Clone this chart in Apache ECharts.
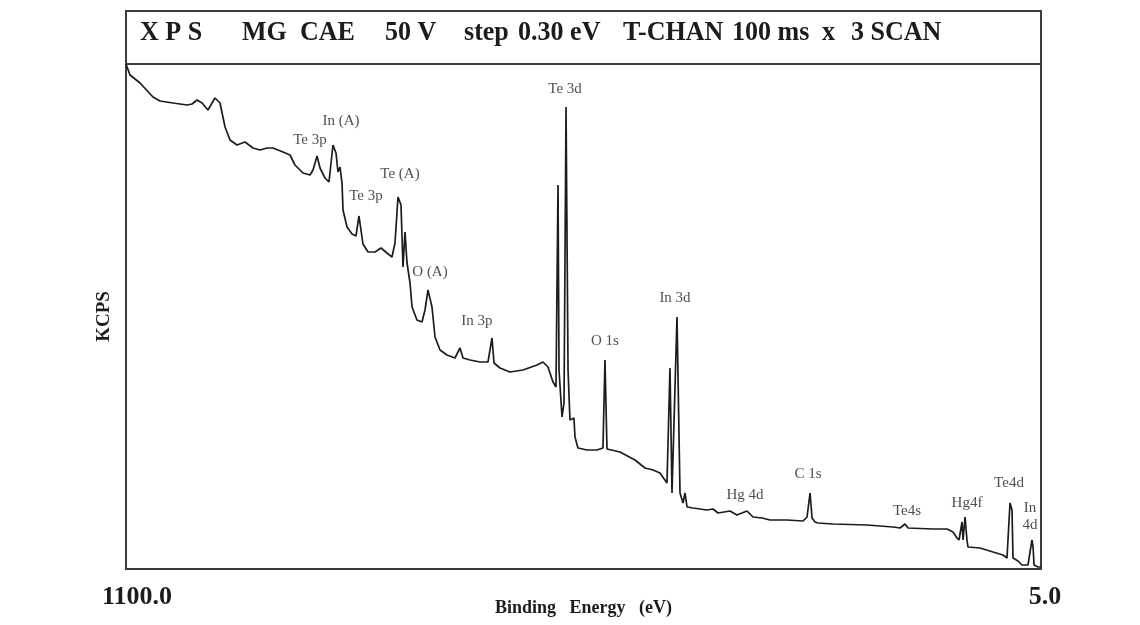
<!DOCTYPE html>
<html>
<head>
<meta charset="utf-8">
<title>XPS survey spectrum</title>
<script src="https://cdn.jsdelivr.net/npm/echarts@6/dist/echarts.min.js"></script>
<style>
  html, body { margin: 0; padding: 0; background: #ffffff; }
  #chart { width: 1140px; height: 625px; }
</style>
</head>
<body>
<div id="chart"></div>
<script>
// Survey scan: binding energy (eV) and count rate (KCPS, arbitrary scale)
const bindingEnergy = [
  1100, 1095.2, 1083.2, 1067.7, 1059.3, 1043.8, 1027.0, 1021.0, 1015.0, 1009.0,
  1001.9, 993.5, 987.5, 981.5, 975.5, 967.2, 957.6, 948.0, 939.6, 931.3,
  924.1, 912.1, 903.7, 897.8, 888.2, 879.8, 876.2, 871.4, 867.8, 861.9,
  857.1, 852.3, 848.7, 846.3, 843.9, 841.5, 840.3, 835.5, 829.5, 824.8,
  821.2, 816.4, 810.4, 802.0, 794.8, 787.7, 781.7, 778.1, 774.5, 770.9,
  768.5, 766.1, 763.7, 760.1, 757.7, 751.8, 745.8, 742.2, 738.6, 733.8,
  730.2, 724.2, 715.9, 706.3, 700.3, 696.7, 688.3, 676.4, 666.8, 662.0,
  659.6, 652.4, 640.5, 624.9, 608.1, 601.0, 595.0, 589.0, 585.4, 583.0,
  581.8, 578.2, 575.8, 573.4, 571.0, 568.7, 563.9, 562.7, 559.1, 548.3,
  536.4, 529.2, 526.8, 524.4, 508.8, 490.9, 478.9, 469.3, 460.9, 452.6,
  449.0, 446.6, 440.6, 437.0, 433.4, 431.0, 428.6, 421.5, 404.7, 397.5,
  391.5, 377.2, 368.8, 356.9, 349.7, 338.9, 329.3, 309.0, 289.8, 285.0,
  281.4, 279.0, 275.5, 271.9, 253.9, 213.2, 182.1, 173.7, 167.7, 164.1,
  134.4, 117.5, 110.3, 105.5, 103.1, 99.5, 98.3, 95.9, 93.6, 92.4,
  78.0, 62.4, 50.5, 45.7, 42.1, 39.7, 38.5, 32.5, 27.8, 20.6,
  15.8, 14.5, 13.3, 8.6, 5.0
];
const intensity = [
  50.5, 49.4, 48.6, 47.2, 46.8, 46.6, 46.4, 46.5, 46.9, 46.6,
  45.9, 47.1, 46.6, 44.2, 42.9, 42.4, 42.7, 42.1, 41.9, 42.1,
  42.1, 41.7, 41.4, 40.4, 39.6, 39.4, 39.9, 41.3, 40.1, 39.1,
  38.7, 42.4, 41.6, 39.7, 40.2, 38.6, 35.9, 34.2, 33.5, 33.3,
  35.3, 32.5, 31.7, 31.7, 32.1, 31.6, 31.2, 32.6, 37.2, 36.4,
  30.2, 33.7, 30.6, 28.6, 26.2, 24.9, 24.7, 25.9, 27.9, 26.2,
  23.2, 21.9, 21.4, 21.1, 22.1, 21.1, 20.9, 20.7, 20.7, 23.1,
  20.6, 20.1, 19.7, 19.9, 20.4, 20.7, 20.2, 18.7, 18.2, 38.4,
  19.9, 15.2, 16.6, 46.2, 19.9, 14.9, 15.1, 13.2, 12.1, 11.9,
  11.9, 12.1, 20.9, 12.0, 11.7, 10.9, 10.1, 9.9, 9.6, 8.6,
  20.1, 7.6, 25.2, 7.6, 6.6, 7.6, 6.2, 6.1, 5.9, 6.0,
  5.6, 5.8, 5.4, 5.8, 5.2, 5.1, 4.9, 4.9, 4.8, 5.2,
  7.6, 5.1, 4.7, 4.6, 4.5, 4.4, 4.2, 4.1, 4.5, 4.1,
  4.0, 4.0, 3.7, 3.1, 2.9, 4.7, 2.9, 5.2, 2.9, 2.2,
  2.1, 1.7, 1.4, 1.1, 6.6, 5.9, 1.1, 0.8, 0.4, 0.4,
  2.9, 2.2, 0.4, 0.2, 0.2
];

// Peak assignments and where their names sit (energy, count rate)
const peakNames = [
  'Te 3p', 'In (A)', 'Te 3p', 'Te (A)', 'O (A)', 'In 3p', 'Te 3d', 'O 1s',
  'In 3d', 'Hg 4d', 'C 1s', 'Te4s', 'Hg4f', 'Te4d', 'In\n4d'
];
const peakLabelEnergy = [
  879.8, 842.7, 812.8, 772.1, 736.2, 680.0, 574.6, 526.8,
  443.0, 359.3, 283.8, 165.4, 93.6, 43.3, 18.2
];
const peakLabelIntensity = [
  42.9, 44.8, 37.3, 39.5, 29.7, 24.8, 48.0, 22.8,
  27.1, 7.4, 9.5, 5.8, 6.6, 8.6, 5.2
];

// Acquisition settings printed in the header strip
const headerParts = ['X P S', 'MG', 'CAE', '50 V', 'step', '0.30 eV', 'T-CHAN', '100 ms', 'x', '3 SCAN'];
const energyEnds = [1100, 5];
const axisTitleX = 'Binding   Energy   (eV)';
const axisTitleY = 'KCPS';

const serif = '"Liberation Serif", "Times New Roman", Times, serif';
const ink = '#1c1c1c';
const frame = '#3c3c3c';

const spectrum = bindingEnergy.map((e, i) => [e, intensity[i]]);
const peakLabels = peakNames.map((n, i) => [peakLabelEnergy[i], peakLabelIntensity[i], n]);

// Header words: left edge of each word, set in a slightly narrowed bold face
const headerLeft = [140, 242, 300, 385, 464, 518, 623, 732, 822, 851];
const headerText = headerParts.map((t, i) => ({
  type: 'text',
  x: headerLeft[i],
  y: 33,
  scaleX: 0.93,
  silent: true,
  style: {
    text: t,
    x: 0,
    y: 0,
    fill: ink,
    font: 'bold 28px ' + serif,
    align: 'left',
    verticalAlign: 'middle',
    textAlign: 'left',
    textVerticalAlign: 'middle'
  }
}));

const chart = echarts.init(document.getElementById('chart'), null, { renderer: 'canvas' });
chart.setOption({
  animation: false,
  backgroundColor: '#ffffff',
  grid: {
    left: 126, right: 99, top: 64, bottom: 56,
    containLabel: false,
    outerBoundsMode: 'none',
    show: true,
    borderColor: frame,
    borderWidth: 2,
    backgroundColor: 'transparent'
  },
  xAxis: {
    type: 'value',
    inverse: true,
    min: 5,
    max: 1100,
    axisLine: { show: false },
    axisTick: { show: false },
    splitLine: { show: false },
    axisLabel: {
      customValues: energyEnds,
      margin: 15,
      color: ink,
      fontFamily: serif,
      fontWeight: 'bold',
      fontSize: 26,
      formatter: v => (v === 1100 ? '{a|' : '{b|') + v.toFixed(1) + '}',
      rich: {
        a: { fontFamily: serif, fontWeight: 'bold', fontSize: 26, color: ink, padding: [0, 0, 0, 22] },
        b: { fontFamily: serif, fontWeight: 'bold', fontSize: 26, color: ink, padding: [0, 0, 0, 8] }
      }
    },
    name: axisTitleX,
    nameLocation: 'middle',
    nameGap: 30,
    nameMoveOverlap: false,
    nameTextStyle: { color: ink, fontFamily: serif, fontWeight: 'bold', fontSize: 18 }
  },
  yAxis: {
    type: 'value',
    min: 0,
    max: 50.5,
    axisLine: { show: false },
    axisTick: { show: false },
    axisLabel: { show: false },
    splitLine: { show: false },
    name: axisTitleY,
    nameLocation: 'middle',
    nameGap: 12,
    nameMoveOverlap: false,
    nameTextStyle: { color: ink, fontFamily: serif, fontWeight: 'bold', fontSize: 19 }
  },
  graphic: [
    {
      type: 'rect',
      silent: true,
      shape: { x: 126, y: 11, width: 915, height: 53 },
      style: { fill: 'none', stroke: frame, lineWidth: 2 }
    }
  ].concat(headerText),
  series: [
    {
      type: 'line',
      data: spectrum,
      showSymbol: false,
      smooth: false,
      lineStyle: { color: ink, width: 1.7 },
      silent: true,
      z: 3
    },
    {
      type: 'scatter',
      data: peakLabels,
      symbolSize: 0,
      silent: true,
      z: 4,
      label: {
        show: true,
        position: 'inside',
        formatter: p => p.data[2],
        color: '#222222',
        fontFamily: serif,
        fontSize: 15,
        lineHeight: 17
      }
    }
  ]
});
</script>
</body>
</html>
